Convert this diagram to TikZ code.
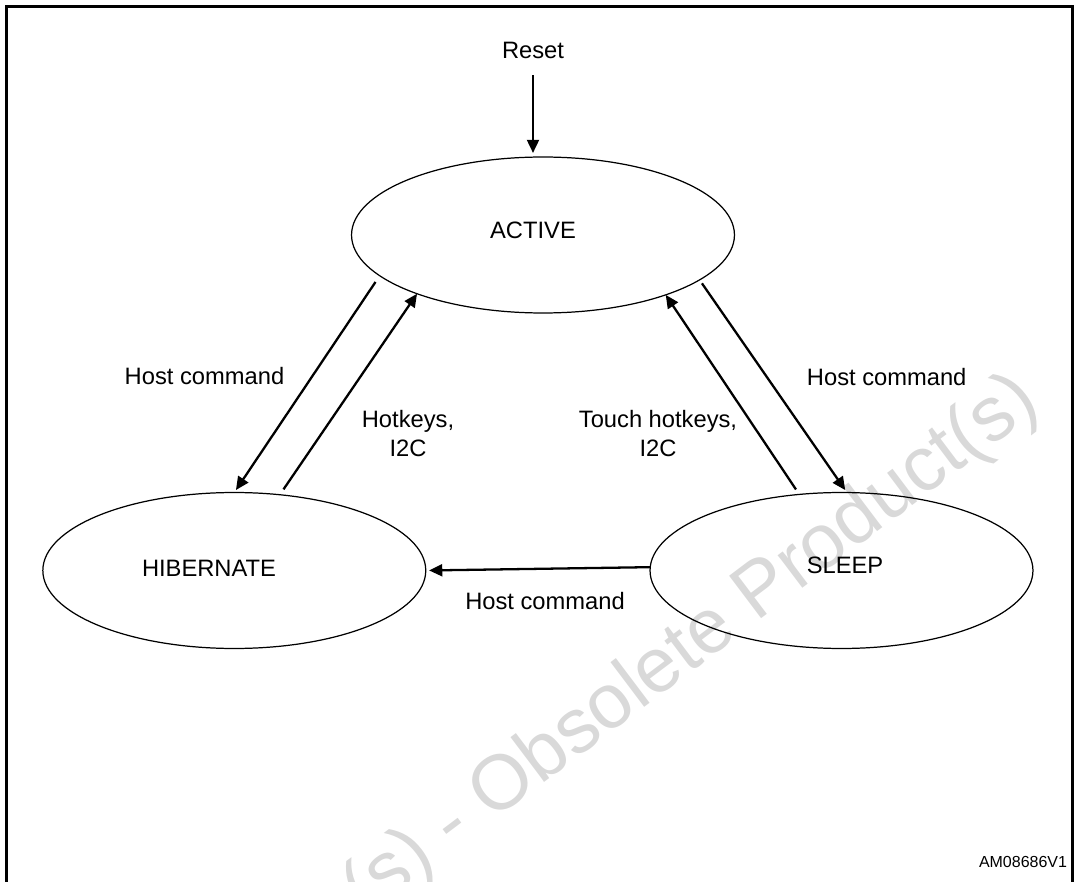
\documentclass[tikz,border=0pt]{standalone}
\usepackage{fontspec}
\setmainfont{Liberation Sans}
\usetikzlibrary{shapes.geometric,arrows.meta}

\begin{document}
\begin{tikzpicture}[x=0.02cm,y=-0.02cm,
  state/.style={ellipse,draw,line width=0.7pt,minimum width=7.66cm,minimum height=3.12cm,inner sep=0pt,outer sep=0pt},
  trans/.style={-{Triangle[length=7.5pt,width=6.8pt]},line width=1.3pt},
  lbl/.style={font=\fontsize{13.5}{16.5}\selectfont,align=center,inner sep=0pt}]
\useasboundingbox (0,0) rectangle (1080,882);
\begin{scope}
\clip (0,0) rectangle (1080,882);
% watermark and frame
\node[rotate=37,anchor=east,text=black!15,font=\fontsize{44}{48}\selectfont,inner sep=0pt] (wm) at (1030,392) {Obsolete Product(s) - Obsolete Product(s)};
\draw[line width=1.7pt] (6.5,6.5) rectangle (1072.5,900);
\end{scope}

% states
\node[state] (act) at (543,235) {};
\node[state] (hib) at (234.3,570.5) {};
\node[state] (slp) at (841.5,570.5) {};
\node[lbl] (acttxt) at (533,230) {ACTIVE};
\node[lbl] (hibtxt) at (209,568) {HIBERNATE};
\node[lbl] (slptxt) at (845,565) {SLEEP};

\node[lbl] (reset) at (533,50.7) {Reset};
\draw[trans,shorten <=9pt,shorten >=2.3pt] (reset) -- (reset |- act.north);

% transitions
\draw[trans,shorten <=4.3pt,shorten >=1.7pt] (act.194.6) -- (hib.north);
\node[lbl] (hc1) at (204.5,376) {Host command};

\draw[trans,shorten <=3.7pt] (hib.59) -- (act.205);
\node[lbl] (hk) at (408,433.5) {Hotkeys,\\I2C};

\draw[trans,shorten <=3.4pt] (slp.119) -- (act.334);
\node[lbl] (thk) at (658,433.5) {Touch hotkeys,\\I2C};

\draw[trans,shorten <=2.4pt,shorten >=1.7pt] (act.344.3) -- (slp.86);
\node[lbl] (hc2) at (886.7,377) {Host command};

\draw[trans,shorten >=1.9pt] (slp.179.2) -- (hib.0.8);
\node[lbl] (hc3) at (545,601) {Host command};

\node[font=\fontsize{9.1}{11}\selectfont,inner sep=0pt] (fig) at (1023,861.7) {AM08686V1};
\end{tikzpicture}
\end{document}
